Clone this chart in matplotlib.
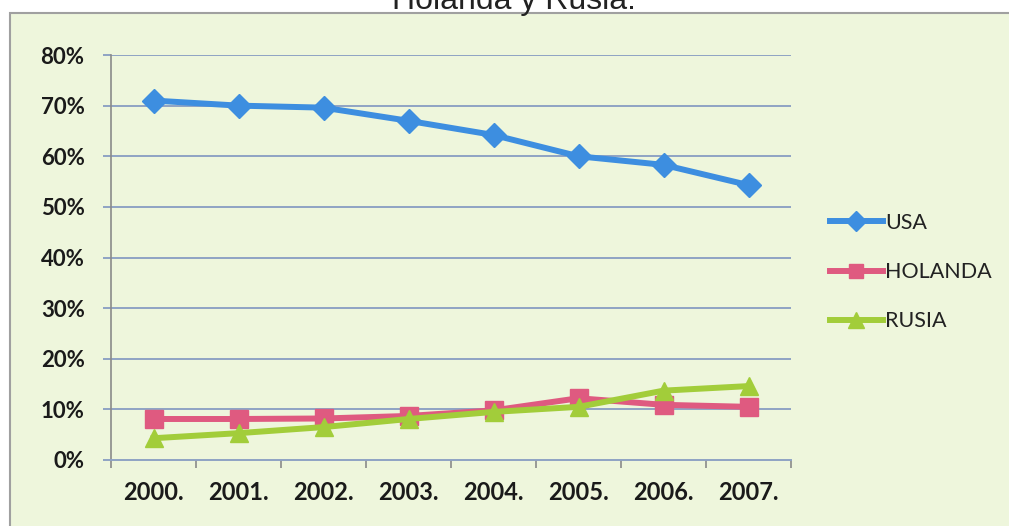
import matplotlib
matplotlib.use("Agg")
import matplotlib.pyplot as plt
from matplotlib.patches import Rectangle

# Datos
years = ["2000.", "2001.", "2002.", "2003.", "2004.", "2005.", "2006.", "2007."]
usa = [0.71, 0.70, 0.696, 0.67, 0.642, 0.60, 0.583, 0.543]
holanda = [0.081, 0.081, 0.082, 0.087, 0.098, 0.122, 0.109, 0.105]
rusia = [0.043, 0.053, 0.065, 0.081, 0.095, 0.105, 0.137, 0.146]
y_ticks = [0, 0.1, 0.2, 0.3, 0.4, 0.5, 0.6, 0.7, 0.8]

grid_color = "#8fa3c4"
axis_color = "#8a8a8a"

fig = plt.figure(figsize=(10.09, 5.26), dpi=100)
fig.patch.set_facecolor("white")

# marco del grafico (recortado por la derecha y abajo)
fig.patches.append(Rectangle((10 / 1009, -0.05), 1.1, 1 - 13 / 526 + 0.05,
                             transform=fig.transFigure, facecolor="#eef6dc",
                             edgecolor="#a0a0a0", linewidth=1.5, zorder=-5))

fig.text(514 / 1009, 1 - 9 / 526, "Holanda y Rusia.", ha="center", va="baseline",
         fontsize=23, family="Liberation Sans", color="#222222")

ax = fig.add_axes([111 / 1009, 1 - 460 / 526, 680 / 1009, 405 / 526])
ax.set_facecolor("none")

x = list(range(len(years)))
ax.plot(x, usa, color="#3d8ee0", lw=4.3, marker="D", ms=12, label="USA", zorder=4)
ax.plot(x, holanda, color="#df5a80", lw=4.3, marker="s", ms=12.5, label="HOLANDA", zorder=3)
ax.plot(x, rusia, color="#a2cd3a", lw=4.3, marker="^", ms=13, label="RUSIA", zorder=5)

ax.set_xlim(-0.5, len(years) - 0.5)
ax.set_ylim(0, 0.8)
ax.set_yticks(y_ticks)
ax.set_yticklabels([f"{int(round(v * 100))}%" for v in y_ticks])
ax.set_xticks(x)
ax.set_xticklabels(years)
ax.set_xticks([i - 0.5 for i in range(len(years) + 1)], minor=True)

for t in y_ticks[1:]:
    ax.axhline(t, color=grid_color, lw=1.4, zorder=1)

for s in ["top", "right"]:
    ax.spines[s].set_visible(False)
ax.spines["left"].set_color(axis_color)
ax.spines["bottom"].set_color(grid_color)
ax.spines["left"].set_linewidth(1.2)
ax.spines["bottom"].set_linewidth(1.4)

ax.tick_params(axis="y", length=6, color=grid_color, width=1.4, pad=13,
               labelsize=16, labelcolor="#1a1a1a")
ax.tick_params(axis="x", which="major", length=0, pad=15, labelsize=17,
               labelcolor="#1a1a1a")
ax.tick_params(axis="x", which="minor", length=6, color=axis_color, width=1.2)
for lab in ax.get_xticklabels() + ax.get_yticklabels():
    lab.set_family("Lato")
    lab.set_fontweight("bold")

leg = fig.legend(loc="upper left", bbox_to_anchor=(830 / 1009, 1 - 213 / 526),
                 frameon=False, prop={"family": "Lato", "size": 15.5},
                 labelspacing=1.35, handlelength=2.45, handletextpad=0.1,
                 borderpad=0, borderaxespad=0, markerscale=0.85)
for text in leg.get_texts():
    text.set_color("#222222")

fig.savefig("out.png", dpi=100)
